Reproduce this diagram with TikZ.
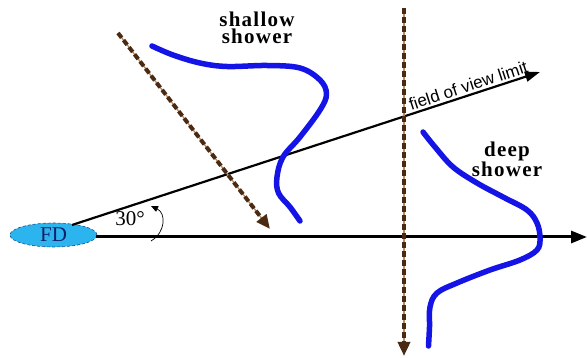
\documentclass[tikz,border=0pt]{standalone}
\usepackage{fontspec}
\setmainfont{Liberation Serif}
\newfontfamily\fovfont{Liberation Sans}
\newfontfamily\boldlab[LetterSpace=6]{Liberation Serif}
\usetikzlibrary{arrows.meta,shapes.geometric}
\definecolor{fdfill}{HTML}{2CB4EE}
\definecolor{fdtext}{HTML}{12206A}
\definecolor{shblue}{HTML}{1414E6}
\definecolor{brdark}{HTML}{4A2A12}
\definecolor{brlight}{HTML}{B88A60}
\tikzset{
  axisline/.style={line width=3pt,-{Triangle[length=16pt,width=12pt]}},
  fovline/.style={line width=2.2pt,-{Triangle[length=15pt,width=10pt]}},
  showerpath/.style={shblue,line width=5.5pt,line cap=round,line join=round},
  trackunder/.style={brlight,line width=1.3pt,shorten >=12pt},
  trackdash/.style={brdark,line width=4pt,dash pattern=on 6pt off 3pt,-{Triangle[length=14pt,width=12pt]}},
  boldlabel/.style={font=\boldlab\bfseries\fontsize{21}{17}\selectfont,align=center,inner sep=0pt},
}
\begin{document}
\begin{tikzpicture}[x=1pt,y=-1pt]
\useasboundingbox (0,0) rectangle (587,358);
% detector
\node[ellipse,draw=fdtext!70!fdfill,densely dashed,line width=0.6pt,fill=fdfill,minimum width=87pt,minimum height=24pt,inner sep=0pt,
      font=\fontsize{21}{21}\selectfont,text=fdtext] (fd) at (53.5,235) {FD};
\coordinate (axisend) at (587,237);
\coordinate (axisstart) at (96,237);
\coordinate (fovstart) at (72,225);
\coordinate (fovend) at (540,72);
% axis and field of view
\draw[axisline] (axisstart) -- (axisend);
\draw[fovline] (fovstart) -- (fovend) node[pos=0.853,sloped,above=1.5pt,inner sep=0.5pt,font=\fovfont\fontsize{17}{17}\selectfont] (fovlab) {field of view limit};
% angle
\coordinate (arcA) at (151,241);
\coordinate (arcB) at (151,206);
\draw[line width=0.7pt,-{Triangle[length=7pt,width=6pt]}] (arcA) .. controls (166,232) and (166,213) .. (arcB);
\node[font=\fontsize{21}{21}\selectfont,inner sep=0pt] (ang) at (130,219) {30\textdegree};
% tracks
\coordinate (sTop) at (118,33);
\coordinate (sBot) at (270,229);
\coordinate (dTop) at (404,8);
\coordinate (dBot) at (404,356);
\draw[trackunder] (sTop) -- (sBot);
\draw[trackdash] (sTop) -- (sBot);
\draw[trackunder] (dTop) -- (dBot);
\draw[trackdash] (dTop) -- (dBot);
% showers
\draw[showerpath] plot[smooth,tension=0.6] coordinates {(152,46) (173,55) (200,63) (227,66.5) (267,65.5) (300,68) (320,80) (326.5,94) (320,110) (300,137) (283,157) (277,177) (278.5,193) (290,207) (300,221)};
\draw[showerpath] plot[smooth,tension=0.6] coordinates {(423,132) (435,147) (453,167) (477,183) (503,197) (527,210) (537,223) (540,238) (537,250) (520,260) (490,270) (457,283) (437,293) (430,307) (429.5,327) (428.5,346)};
% labels
\node[boldlabel] (shallowlab) at (257,28) {shallow\\shower};
\node[boldlabel] (deeplab) at (507,159) {deep\\shower};
\end{tikzpicture}
\end{document}
